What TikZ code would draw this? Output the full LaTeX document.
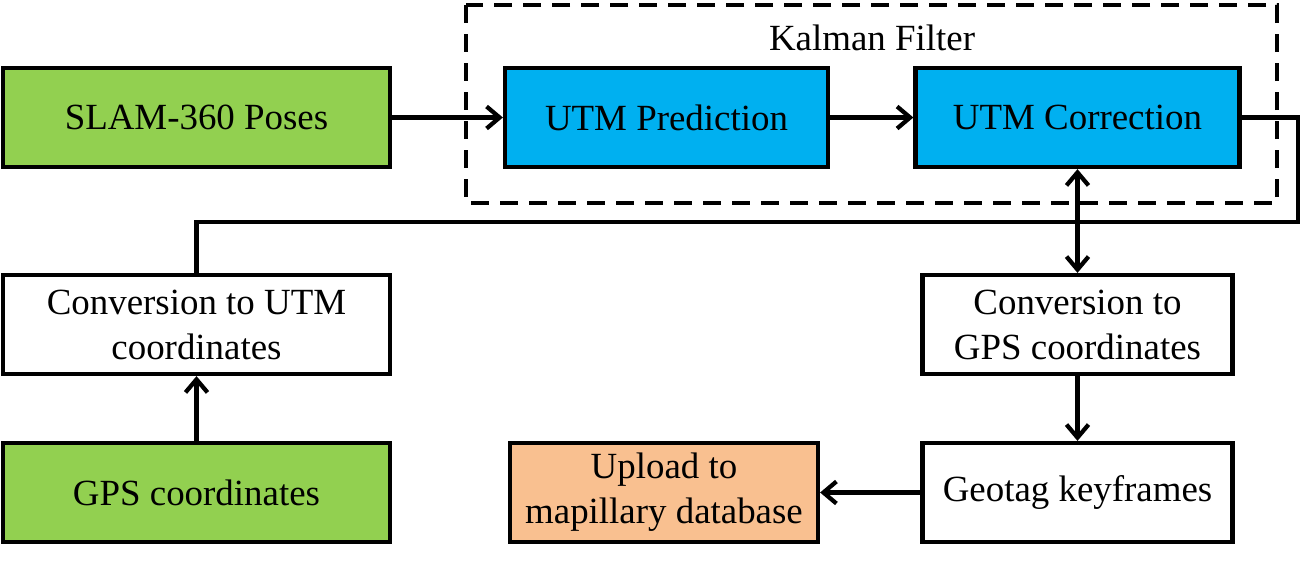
\documentclass[tikz,border=0pt]{standalone}
\usepackage{fontspec}
\setmainfont{Liberation Serif}
\usetikzlibrary{arrows.meta}
\definecolor{slamgreen}{HTML}{92D050}
\definecolor{kfblue}{HTML}{00B0F0}
\definecolor{uporange}{HTML}{F9C090}
\begin{document}
\begin{tikzpicture}[
  box/.style={draw,line width=0.085cm,minimum height=1.98cm,align=center,inner sep=2pt,
    font=\fontsize{21}{25.6}\selectfont},
  wide/.style={box,minimum width=7.74cm},
  barb/.tip={Straight Barb[length=0.26cm,width=0.44cm]},
  link/.style={line width=0.085cm,-barb}]
\pgfmathsetmacro{\xa}{3.93}
\pgfmathsetmacro{\xc}{21.55}
\pgfmathsetmacro{\ya}{-2.35}
\pgfmathsetmacro{\yb}{-6.49}
\pgfmathsetmacro{\yc}{-9.85}
\useasboundingbox (0,0) rectangle (26,-11.22);
%kalman filter frame
\draw[line width=0.085cm,dash pattern=on 0.36cm off 0.22cm] (9.32,-0.1) rectangle (25.54,-4.06);
\node[font=\fontsize{21}{25.6}\selectfont] (kf) at (17.44,-0.76) {Kalman Filter};
%boxes
\node[wide,fill=slamgreen] (slam) at (\xa,\ya) {SLAM-360 Poses};
\node[box,fill=kfblue,minimum width=6.46cm] (pred) at (13.33,\ya) {UTM Prediction};
\node[box,fill=kfblue,minimum width=6.48cm] (corr) at (\xc,\ya) {UTM Correction};
\node[wide] (utm) at (\xa,\yb) {Conversion to UTM\\coordinates};
\node[wide,fill=slamgreen] (gps) at (\xa,\yc) {GPS coordinates};
\node[box,minimum width=6.2cm] (togps) at (\xc,\yb) {Conversion to\\GPS coordinates};
\node[box,minimum width=6.2cm] (geo) at (\xc,\yc) {Geotag keyframes};
\node[box,fill=uporange,minimum width=6.16cm] (up) at (13.28,\yc) {Upload to\\mapillary database};
%arrows
\draw[link] (slam)--(pred);
\draw[link] (pred)--(corr);
\draw[link,barb-barb] (corr)--(togps);
\draw[link] (togps)--(geo);
\draw[link] (geo)--(up);
\draw[link] (gps)--(utm);
\draw[line width=0.085cm] (corr.east)--++(1.12,0)coordinate(ka)|-(\xa,-4.44)--(utm.north);
\end{tikzpicture}
\end{document}
